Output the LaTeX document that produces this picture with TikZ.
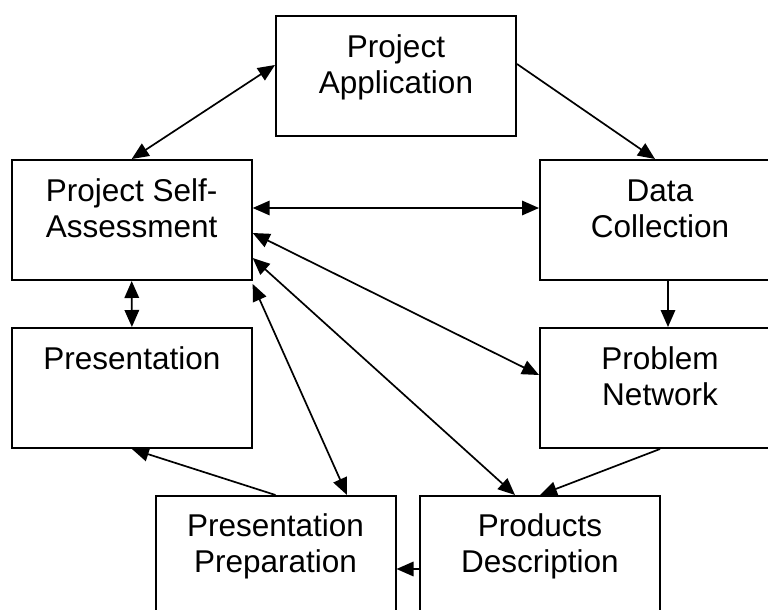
\documentclass[tikz,border=0pt]{standalone}
\usepackage{fontspec}
\setmainfont{Liberation Sans}
\usetikzlibrary{arrows.meta}
\begin{document}
\begin{tikzpicture}[x=1pt,y=-1pt,
  box/.style={draw, line width=2pt, minimum width=240pt, minimum height=120pt, inner sep=0pt},
  caption/.style={anchor=base, inner sep=0pt, font=\fontsize{31.5}{36}\selectfont},
  link/.style={line width=1.7pt, -{Triangle[length=17pt,width=14.5pt]}},
  both/.style={line width=1.7pt, {Triangle[length=17pt,width=14.5pt]}-{Triangle[length=17pt,width=14.5pt]}}]
\useasboundingbox (0,0) rectangle (768,610);
\clip (0,0) rectangle (768,610);

% boxes
\node[box] (pa)   at (396,76)    {};
\node[box] (psa)  at (131.7,220) {};
\node[box] (dc)   at (660,220)   {};
\node[box] (pres) at (131.9,388) {};
\node[box] (pn)   at (660,388)   {};
\node[box] (pp)   at (275.5,556) {};
\node[box] (pd)   at (540,556)   {};

% captions, first baseline a fixed distance below each box top
\newcommand{\twolines}[2]{\begin{tabular}[t]{@{}c@{}}#1\\#2\end{tabular}}
\node[caption] (pa-t)   at (396,57)      {\twolines{Project}{Application}};
\node[caption] (psa-t)  at (131.7,201.5) {\twolines{Project Self-}{Assessment}};
\node[caption] (dc-t)   at (660,201.5)   {\twolines{Data}{Collection}};
\node[caption] (pres-t) at (131.9,369)   {Presentation};
\node[caption] (pn-t)   at (660,369)     {\twolines{Problem}{Network}};
\node[caption] (pp-t)   at (275.5,536.5) {\twolines{Presentation}{Preparation}};
\node[caption] (pd-t)   at (540,536.5)   {\twolines{Products}{Description}};

% connectors
\draw[both] (psa.north) -- ([yshift=11pt]pa.west);
\draw[link] ([yshift=12pt]pa.east) -- ([xshift=-5pt]dc.north);
\draw[both] ([yshift=12pt]psa.east) -- ([yshift=12pt]dc.west);
\draw[link] ([xshift=8pt]dc.south) -- ([xshift=8pt]pn.north);
\draw[both] ([yshift=-13pt]psa.east) -- ([yshift=13pt]pn.west);
\draw[both] ([yshift=-38pt]psa.east) -- ([xshift=-25pt]pd.north);
\draw[both] ([yshift=-3pt]psa.south east) -- ([xshift=71.5pt]pp.north);
\draw[both] (psa.south) -- (pres.north);
\draw[link] (pp.north) -- (pres.south);
\draw[link] (pn.south) -- (pd.north);
\draw[link] ([yshift=-13pt]pd.west) -- ([yshift=-13pt]pp.east);
\end{tikzpicture}
\end{document}
